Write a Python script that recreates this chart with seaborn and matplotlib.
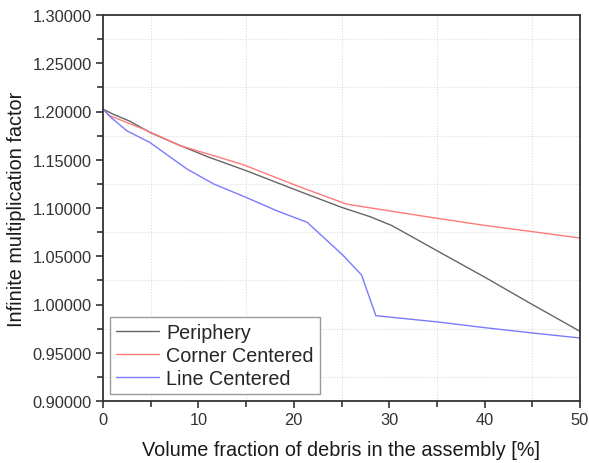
import numpy as np
import pandas as pd
import matplotlib
matplotlib.use("Agg")
import matplotlib.pyplot as plt
from matplotlib.ticker import MultipleLocator, FormatStrFormatter
import seaborn as sns

# Volume fraction of debris [%] and infinite multiplication factor per configuration
periphery_x = [0, 1, 2.8, 5, 7.7, 11, 15, 20, 25, 28, 30.3, 35, 40, 45, 50]
periphery_k = [1.2026, 1.1975, 1.1900, 1.1780, 1.1663, 1.1530, 1.1387, 1.1195, 1.1007, 1.0910, 1.0817,
               1.0558, 1.0284, 1.0000, 0.9722]

corner_x = [0, 0.7, 4.2, 8.1, 14.7, 20.3, 25.5, 28.3, 34.3, 40, 45, 50]
corner_k = [1.2026, 1.1957, 1.1819, 1.1646, 1.1449, 1.1231, 1.1041, 1.0997, 1.0904, 1.0820, 1.0755, 1.0689]

line_x = [0, 0.7, 2.5, 4.9, 8.8, 11.6, 15.0, 18.2, 21.4, 25.2, 27.1, 28.6, 35, 40, 45, 50]
line_k = [1.2026, 1.1950, 1.1800, 1.1680, 1.1404, 1.1249, 1.1110, 1.0972, 1.0852, 1.0506, 1.0306,
          0.9884, 0.9820, 0.9760, 0.9705, 0.9653]

series_names = ["Periphery", "Corner Centered", "Line Centered"]
series_colors = ["#666666", "#ff7a7a", "#7a7aff"]

frames = []
for name, xs, ks in zip(series_names, [periphery_x, corner_x, line_x], [periphery_k, corner_k, line_k]):
    frames.append(pd.DataFrame({"fraction": xs, "kinf": ks, "config": name}))
df = pd.concat(frames, ignore_index=True)

sns.set_style("white")
plt.rcParams["font.family"] = ["Liberation Sans", "DejaVu Sans"]

fig = plt.figure(figsize=(5.89, 4.64), dpi=100)
ax = fig.add_axes([103 / 589, 1 - 402 / 464, 477 / 589, 386 / 464])

sns.lineplot(data=df, x="fraction", y="kinf", hue="config", hue_order=series_names,
             palette=series_colors, linewidth=1.0, ax=ax, sort=False, estimator=None)

ax.set_xlim(0, 50)
ax.set_ylim(0.9, 1.3)
ax.xaxis.set_major_locator(MultipleLocator(10))
ax.xaxis.set_minor_locator(MultipleLocator(5))
ax.yaxis.set_major_locator(MultipleLocator(0.05))
ax.yaxis.set_minor_locator(MultipleLocator(0.025))
ax.yaxis.set_major_formatter(FormatStrFormatter("%.5f"))

# dotted grid on the minor positions only
ax.grid(False, which="major")
ax.grid(True, which="minor", color="#dcdcdc", linestyle=(0, (1, 1.5)), linewidth=0.8)

for side in ["left", "bottom", "top", "right"]:
    ax.spines[side].set_visible(True)
    ax.spines[side].set_color("#333333")
    ax.spines[side].set_linewidth(1.3)

ax.tick_params(which="major", direction="out", length=5, width=1.2, color="#333333",
               labelsize=11.8, labelcolor="#333333", left=True, bottom=True, top=False, right=False, pad=3)
ax.tick_params(which="minor", direction="out", length=4, width=1.2, color="#333333",
               left=True, bottom=True, top=False, right=False)

ax.set_xlabel("Volume fraction of debris in the assembly [%]", fontsize=14.3, color="#1a1a1a", labelpad=9)
ax.set_ylabel("Infinite multiplication factor", fontsize=14.3, color="#1a1a1a", labelpad=5)

leg = ax.legend(loc="lower left", fontsize=14.2, frameon=True, fancybox=False,
                edgecolor="#999999", framealpha=1, handlelength=2.2, handletextpad=0.35,
                borderpad=0.3, labelspacing=0.2, borderaxespad=0.35)
leg.get_frame().set_linewidth(1.0)
leg.set_title(None)

fig.savefig("out.png", dpi=100)
